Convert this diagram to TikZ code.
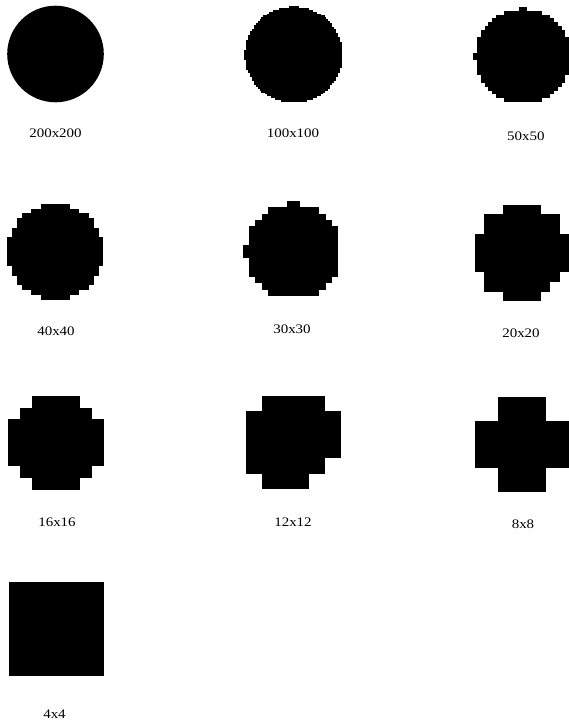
\documentclass[tikz,border=0pt]{standalone}
\usepackage{fontspec}
\setmainfont{Liberation Serif}
% pixelated disc: #1 x0, #2 y0, #3 cell width, #4 cell height, #5 cells, #6 mode (0 corner sampling, 1 centre test)
\newcommand\pixdisk[6]{%
  \pgfmathsetmacro\pds{200/#5}%
  \pgfmathtruncatemacro\pdN{#5-1}%
  \foreach \k in {0,...,\pdN}{%
    \pgfmathsetmacro\pdpy{(1-#6)*(floor(\k*\pds+0.001)+0.5)+#6*(\k+0.5)*\pds}%
    \pgfmathsetmacro\pdhw{sqrt(max(0,10000-(\pdpy-100)*(\pdpy-100)))}%
    \gdef\pdlo{-1}\gdef\pdhi{-1}%
    \foreach \m in {0,...,\pdN}{%
      \pgfmathsetmacro\pdpx{(1-#6)*(floor(\m*\pds+0.001)+0.5)+#6*(\m+0.5)*\pds}%
      \pgfmathtruncatemacro\pdin{abs(\pdpx-100)<=\pdhw}%
      \ifnum\pdin=1 \ifnum\pdlo<0 \xdef\pdlo{\m}\fi\xdef\pdhi{\m}\fi
    }%
    \ifnum\pdlo>-1
      \fill (#1+\pdlo*#3-0.15,#2+\k*#4-0.15) rectangle (#1+\pdhi*#3+#3+0.15,#2+\k*#4+#4+0.15);
    \fi
  }%
}
% hand-coded rows: #1 x0, #2 y0, #3 cw, #4 ch, #5 list row/first/last
\newcommand\pixrows[5]{%
  \foreach \r/\a/\b in {#5}{%
    \fill (#1+\a*#3-0.15,#2+\r*#4-0.15) rectangle (#1+\b*#3+#3+0.15,#2+\r*#4+#4+0.15);
  }%
}
\tikzset{lab/.style={font=\fontsize{13}{15}\selectfont, xscale=1.15, anchor=base, inner sep=0pt}}
\begin{document}
\begin{tikzpicture}[x=1pt,y=-1pt]
\useasboundingbox (0,0) rectangle (569,724);
\fill[white] (0,0) rectangle (569,724);
% row 1
\fill (55.5,54) circle (48.3);
\pixdisk{244}{6}{1.96}{1.92}{50}{0}
\pixdisk{473.3}{7.3}{3.83}{3.78}{25}{0}
% row 2
\pixdisk{7.3}{204}{4.8}{4.77}{20}{1}
\pixdisk{242.7}{201}{6.37}{6.33}{15}{0}
\pixrows{475}{205}{9.4}{9.6}{0/3/6,1/1/8,2/1/8,3/0/9,4/0/9,5/0/9,6/0/9,7/1/8,8/1/7,9/3/6}
% row 3
\pixrows{8.3}{396}{11.9}{11.7}{0/2/5,1/1/6,2/0/7,3/0/7,4/0/7,5/0/7,6/1/6,7/2/5}
\pixrows{246}{396}{15.8}{15.5}{0/1/4,1/0/5,2/0/5,3/0/5,4/0/4,5/1/3}
\pixrows{475}{397}{23.5}{23.75}{0/1/2,1/0/3,2/0/3,3/1/2}
% row 4
\fill (8.5,582) rectangle (103.5,676);
% labels
\node[lab] (l1) at (55.5,137.3) {200x200};
\node[lab] (l2) at (293,137.3) {100x100};
\node[lab] (l3) at (525.8,140) {50x50};
\node[lab] (l4) at (56,335) {40x40};
\node[lab] (l5) at (292,333) {30x30};
\node[lab] (l6) at (521,337) {20x20};
\node[lab] (l7) at (57,526) {16x16};
\node[lab] (l8) at (293,526) {12x12};
\node[lab] (l9) at (523,528) {8x8};
\node[lab] (l10) at (54.5,718) {4x4};
\end{tikzpicture}
\end{document}
